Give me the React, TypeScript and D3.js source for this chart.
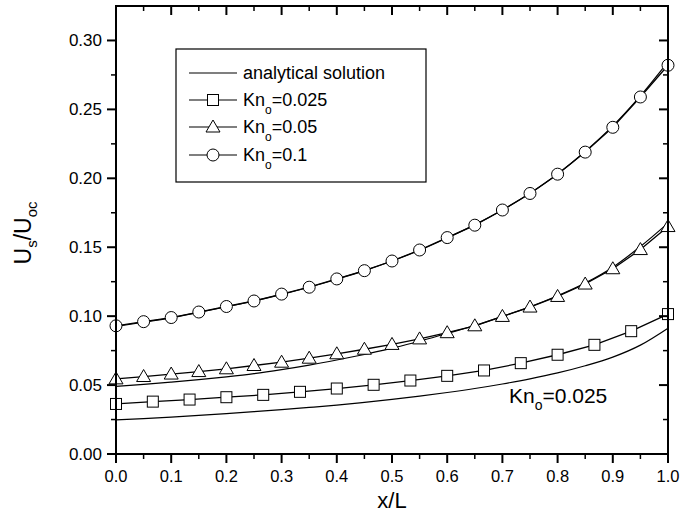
import React from "react";
import * as d3 from "d3";

// ---- data ----
const xFine = [0, 0.05, 0.1, 0.15, 0.2, 0.25, 0.3, 0.35, 0.4, 0.45, 0.5, 0.55, 0.6, 0.65, 0.7, 0.75, 0.8, 0.85, 0.9, 0.95, 1.0];
const xSquare = [0, 0.0667, 0.1333, 0.2, 0.2667, 0.3333, 0.4, 0.4667, 0.5333, 0.6, 0.6667, 0.7333, 0.8, 0.8667, 0.9333, 1.0];

const kn0025 = [0.0363, 0.038, 0.0395, 0.0412, 0.0429, 0.0451, 0.0475, 0.0502, 0.0533, 0.0567, 0.0606, 0.0659, 0.072, 0.0792, 0.0891, 0.1015];
const kn005 = [0.0545, 0.0562, 0.058, 0.0598, 0.0618, 0.0642, 0.0666, 0.0695, 0.0727, 0.0760, 0.0795, 0.0835, 0.0880, 0.093, 0.0998, 0.1066, 0.1143, 0.1233, 0.1344, 0.1483, 0.165];
const kn01 = [0.093, 0.096, 0.099, 0.103, 0.107, 0.111, 0.116, 0.121, 0.127, 0.133, 0.140, 0.148, 0.157, 0.166, 0.177, 0.189, 0.203, 0.219, 0.237, 0.259, 0.282];

const anaKn0025 = [0.0247, 0.0257, 0.0268, 0.028, 0.0293, 0.0307, 0.0322, 0.0338, 0.0355, 0.0375, 0.0396, 0.042, 0.0446, 0.0475, 0.0508, 0.0545, 0.0588, 0.064, 0.0703, 0.079, 0.0913];
const anaKn005 = [0.049, 0.0505, 0.0522, 0.054, 0.056, 0.0583, 0.0612, 0.0645, 0.0682, 0.0722, 0.0768, 0.0818, 0.0875, 0.0932, 0.0998, 0.1068, 0.1148, 0.1240, 0.1355, 0.1505, 0.1675];
const anaKn01 = [0.0925, 0.0957, 0.0988, 0.1027, 0.1068, 0.1110, 0.1158, 0.1210, 0.1268, 0.1330, 0.1400, 0.1478, 0.1568, 0.1662, 0.1770, 0.1892, 0.2032, 0.2195, 0.2380, 0.2598, 0.2845];

const xTicks = [0, 0.1, 0.2, 0.3, 0.4, 0.5, 0.6, 0.7, 0.8, 0.9, 1.0];
const xMinor = [0.05, 0.15, 0.25, 0.35, 0.45, 0.55, 0.65, 0.75, 0.85, 0.95];
const yTicks = [0, 0.05, 0.1, 0.15, 0.2, 0.25, 0.3];
const yMinor = [0.025, 0.075, 0.125, 0.175, 0.225, 0.275];

const legendLabels = ["analytical solution", "0.025", "0.05", "0.1"];
const legendSymbols = ["none", "square", "triangle", "circle"];

const W = 683, H = 527;
const L = 116, R = 668, T = 6, B = 454;
const FONT = "'Liberation Sans', Arial, sans-serif";

function Marker({ type, x, y }: { type: string; x: number; y: number }) {
  if (type === "square") return <rect x={x - 5.5} y={y - 5.5} width={11} height={11} fill="#fff" stroke="#000" strokeWidth={1} />;
  if (type === "circle") return <circle cx={x} cy={y} r={6} fill="#fff" stroke="#000" strokeWidth={1} />;
  if (type === "triangle") return <path d={`M${x},${y - 7}L${x + 7},${y + 5}L${x - 7},${y + 5}Z`} fill="#fff" stroke="#000" strokeWidth={1} />;
  return null;
}

export default function App() {
  const x = d3.scaleLinear().domain([0, 1]).range([L, R]);
  const y = d3.scaleLinear().domain([0, 0.325]).range([B, T]);
  const smooth = d3.line<[number, number]>().x(d => x(d[0])).y(d => y(d[1])).curve(d3.curveMonotoneX);
  const straight = d3.line<[number, number]>().x(d => x(d[0])).y(d => y(d[1]));

  const anas = [anaKn0025, anaKn005, anaKn01];
  const series = [
    { xs: xSquare, ys: kn0025, sym: "square" },
    { xs: xFine, ys: kn005, sym: "triangle" },
    { xs: xFine, ys: kn01, sym: "circle" },
  ];
  const legendY = [73, 100, 127, 155];

  return (
    <svg width={W} height={H} style={{ position: "absolute", left: 0, top: 0, background: "#fff" }} fontFamily={FONT}>
      <rect x={0} y={0} width={W} height={H} fill="#fff" />
      {/* analytical curves */}
      {anas.map((a, i) => (
        <path key={"a" + i} d={smooth(xFine.map((v, j) => [v, a[j]]))!} fill="none" stroke="#000" strokeWidth={1.2} />
      ))}
      {/* data series */}
      {series.map((s, i) => (
        <g key={"s" + i}>
          <path d={straight(s.xs.map((v, j) => [v, s.ys[j]]))!} fill="none" stroke="#000" strokeWidth={1.3} />
          {s.xs.map((v, j) => <Marker key={j} type={s.sym} x={x(v)} y={y(s.ys[j])} />)}
        </g>
      ))}
      {/* frame */}
      <rect x={L} y={T} width={R - L} height={B - T} fill="none" stroke="#000" strokeWidth={2} />
      {/* x ticks */}
      {xTicks.map(t => (
        <g key={"xt" + t}>
          <line x1={x(t)} x2={x(t)} y1={B} y2={B + 9} stroke="#000" strokeWidth={2} />
          <line x1={x(t)} x2={x(t)} y1={T} y2={T + 9} stroke="#000" strokeWidth={2} />
          <text x={x(t)} y={482} textAnchor="middle" fontSize={16.5}>{t.toFixed(1)}</text>
        </g>
      ))}
      {xMinor.map(t => (
        <g key={"xm" + t}>
          <line x1={x(t)} x2={x(t)} y1={B} y2={B + 5} stroke="#000" strokeWidth={1.5} />
          <line x1={x(t)} x2={x(t)} y1={T} y2={T + 5} stroke="#000" strokeWidth={1.5} />
        </g>
      ))}
      {/* y ticks */}
      {yTicks.map(t => (
        <g key={"yt" + t}>
          <line x1={L - 9} x2={L} y1={y(t)} y2={y(t)} stroke="#000" strokeWidth={2} />
          <line x1={R - 9} x2={R} y1={y(t)} y2={y(t)} stroke="#000" strokeWidth={2} />
          <text x={102} y={y(t) + 6} textAnchor="end" fontSize={17}>{t.toFixed(2)}</text>
        </g>
      ))}
      {yMinor.map(t => (
        <g key={"ym" + t}>
          <line x1={L - 5} x2={L} y1={y(t)} y2={y(t)} stroke="#000" strokeWidth={1.5} />
          <line x1={R - 5} x2={R} y1={y(t)} y2={y(t)} stroke="#000" strokeWidth={1.5} />
        </g>
      ))}
      {/* axis titles */}
      <text x={(L + R) / 2} y={508} textAnchor="middle" fontSize={22}>x/L</text>
      <text transform={`translate(31,${(T + B) / 2 + 3}) rotate(-90)`} textAnchor="middle" fontSize={23}>
        U<tspan fontSize={15} dy={6}>s</tspan><tspan dy={-6}>/U</tspan><tspan fontSize={15} dy={6}>oc</tspan>
      </text>
      {/* legend */}
      <rect x={176} y={49} width={250} height={133} fill="#fff" stroke="#000" strokeWidth={1.2} />
      {legendLabels.map((lab, i) => (
        <g key={"lg" + i}>
          <line x1={189} x2={237} y1={legendY[i]} y2={legendY[i]} stroke="#000" strokeWidth={1.2} />
          <Marker type={legendSymbols[i]} x={213} y={legendY[i]} />
          {i === 0 ? (
            <text x={243} y={legendY[i] + 6} fontSize={18}>{lab}</text>
          ) : (
            <text x={243} y={legendY[i] + 6} fontSize={18}>
              Kn<tspan fontSize={12} dy={8}>o</tspan><tspan dy={-8}>={lab}</tspan>
            </text>
          )}
        </g>
      ))}
      {/* annotation */}
      <text x={509} y={403} fontSize={21}>
        Kn<tspan fontSize={14} dy={7}>o</tspan><tspan dy={-7}>=0.025</tspan>
      </text>
    </svg>
  );
}
